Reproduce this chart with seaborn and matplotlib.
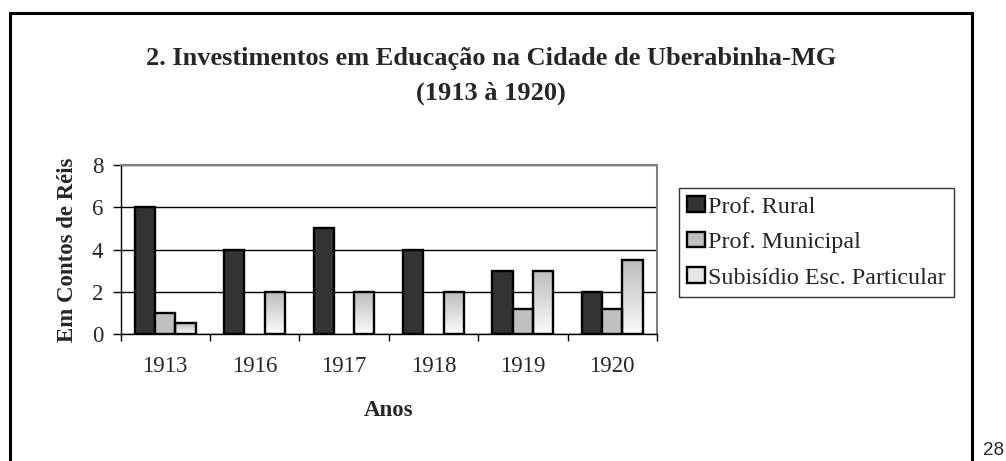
import numpy as np
import pandas as pd
import matplotlib
matplotlib.use("Agg")
import matplotlib.pyplot as plt
import seaborn as sns
from matplotlib.patches import Rectangle, Patch
from matplotlib.colors import LinearSegmentedColormap

# dados (contos de réis)
anos = ["1913", "1916", "1917", "1918", "1919", "1920"]
prof_rural = [6, 4, 5, 4, 3, 2]
prof_municipal = [1, np.nan, np.nan, np.nan, 1.2, 1.2]
subsidio = [0.5, 2, 2, 2, 3, 3.5]
series = ["Prof. Rural", "Prof. Municipal", "Subisídio Esc. Particular"]
cores = ["#333333", "#c0c0c0", "#eeeeee"]

df = pd.DataFrame({
    "Ano": anos * 3,
    "Serie": [series[0]] * 6 + [series[1]] * 6 + [series[2]] * 6,
    "Valor": prof_rural + prof_municipal + subsidio,
})

sns.set_style("white")
plt.rcParams["font.family"] = ["Liberation Serif", "DejaVu Serif"]

W, H = 1006, 461
fig = plt.figure(figsize=(W / 100, H / 100), dpi=100)
ax = fig.add_axes([120.5 / W, 1 - 334 / H, (657 - 120.5) / W, (334 - 165) / H])

sns.barplot(data=df, x="Ano", y="Valor", hue="Serie", order=anos, hue_order=series,
            palette=cores, saturation=1, width=0.68, errorbar=None,
            edgecolor="black", linewidth=1.7, legend=False, ax=ax)

# degradê nas barras de subsídio (cinza em cima, branco embaixo)
grad_cmap = LinearSegmentedColormap.from_list("grad", ["#fbfbfb", "#bcbcbc"])
grad = np.linspace(0, 1, 128).reshape(-1, 1)
for bar in ax.containers[2]:
    x, y = bar.get_xy()
    w, h = bar.get_width(), bar.get_height()
    if np.isnan(h) or h == 0:
        continue
    ax.imshow(grad, extent=[x, x + w, y, y + h], origin="lower", cmap=grad_cmap,
              aspect="auto", interpolation="bicubic", zorder=bar.get_zorder() - 0.05)
    bar.set_facecolor("none")

ax.set_xlim(-0.5, 5.5)
ax.set_ylim(0, 8)
ax.set_yticks([0, 2, 4, 6, 8])
ax.yaxis.grid(True, color="black", lw=1)
ax.set_axisbelow(True)

for s in ["top", "right"]:
    ax.spines[s].set_color("#808080")
    ax.spines[s].set_linewidth(1.5)
for s in ["left", "bottom"]:
    ax.spines[s].set_color("black")
    ax.spines[s].set_linewidth(1)

ax.tick_params(axis="y", left=True, direction="out", length=5.5, width=1,
               color="black", pad=7, labelsize=16.5)
ax.tick_params(axis="x", which="major", length=0, pad=16, labelsize=16.5)
ax.set_xticks(np.arange(-0.5, 6, 1), minor=True)
ax.tick_params(axis="x", which="minor", bottom=True, direction="out",
               length=5, width=1, color="black")

ax.set_xlabel("Anos", fontsize=16.5, fontweight="bold")
ax.xaxis.set_label_coords(0.5, -0.45)
ax.xaxis.label.set_va("center")
ax.set_ylabel("Em Contos de Réis", fontsize=16.5, fontweight="bold")
ax.yaxis.set_label_coords(-0.098, 0.5)
ax.yaxis.label.set_va("center")

fig.text(491 / W, 1 - 58 / H, "2. Investimentos em Educação na Cidade de Uberabinha-MG",
         ha="center", va="center", fontsize=19, fontweight="bold")
fig.text(491 / W, 1 - 93 / H, "(1913 à 1920)",
         ha="center", va="center", fontsize=19, fontweight="bold")

handles = [Patch(facecolor=c, edgecolor="black", lw=1.7) for c in ["#333333", "#c0c0c0", "#e6e6e6"]]
leg = ax.legend(handles, series, loc="upper left", bbox_to_anchor=(679 / W, 1 - 188 / H),
                bbox_transform=fig.transFigure, frameon=True, fancybox=False,
                edgecolor="black", borderaxespad=0, handlelength=0.72, handleheight=0.62,
                handletextpad=0.12, labelspacing=0.58, borderpad=0.35, fontsize=17.4)
leg.get_frame().set_linewidth(1)

# moldura da página
fig.add_artist(Rectangle((10 / W, -0.1), 962 / W, 1.1 - 13 / H, transform=fig.transFigure,
                         fill=False, edgecolor="black", lw=2.2))
fig.text(993 / W, 1 - 450 / H, "28", ha="center", va="center", fontsize=13.5,
         family=["Liberation Sans", "DejaVu Sans"])

fig.savefig("out.png", dpi=100)
